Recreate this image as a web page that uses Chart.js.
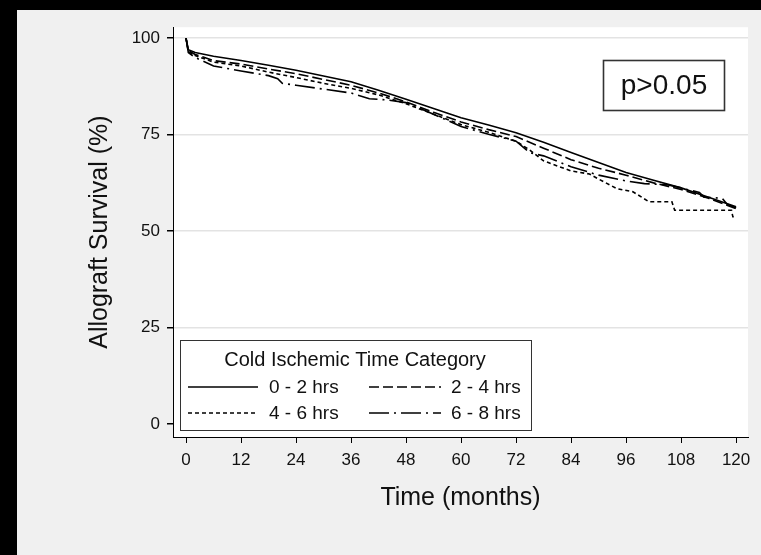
<!DOCTYPE html>
<html>
<head>
<meta charset="utf-8">
<script src="https://cdn.jsdelivr.net/npm/chart.js@4/dist/chart.umd.min.js"></script>
<style>
  html, body { margin: 0; padding: 0; background: #000; }
  #wrap { position: absolute; left: 17px; top: 10px; width: 744px; height: 545px; }
</style>
</head>
<body>
<div id="wrap"><canvas id="kmChart" width="744" height="545"></canvas></div>
<script>
// Kaplan-Meier style survival data (months, % surviving)
const seriesLabels = ["0 - 2 hrs", "2 - 4 hrs", "4 - 6 hrs", "6 - 8 hrs"];

const months02 = [0, 0.5, 2, 6, 12, 18, 24, 30, 36, 42, 48, 54, 60, 66, 72, 78, 84, 90, 96, 102, 108, 114, 120];
const surv02 = [100, 97, 96.3, 95.3, 94.2, 93, 91.7, 90.2, 88.7, 86.5, 84.2, 81.8, 79.4, 77.5, 75.5, 73, 70.4, 67.8, 65.2, 63.2, 61.2, 58.8, 56.3];

const months24 = [0, 0.5, 2, 6, 12, 18, 24, 30, 36, 42, 48, 54, 60, 66, 72, 78, 84, 90, 96, 102, 108, 114, 120];
const surv24 = [100, 96.8, 95.8, 94.2, 93.3, 92, 90.8, 89.3, 87.8, 85.8, 83.5, 80.8, 78.3, 76.3, 74.5, 71.5, 68.5, 66.3, 64.5, 62.5, 60.8, 58.5, 55.8];

const months46 = [0, 0.5, 2, 6, 12, 18, 24, 30, 36, 42, 48, 54, 60, 66, 72, 75, 78, 84, 88, 90, 94, 97.5, 101, 106, 106.6, 119, 119.3, 120];
const surv46 = [100, 96.5, 95.5, 93.8, 92.8, 91.2, 89.8, 88.3, 87, 85.3, 83, 80.3, 77.6, 75.6, 73.3, 71, 68.2, 65.6, 64.8, 63.5, 61, 60.2, 57.6, 57.6, 55.4, 55.4, 53.7, 53.7];

const months68 = [0, 0.5, 2, 6, 12, 18, 20, 21, 24, 30, 36, 40, 44, 48, 54, 60, 66, 72, 75, 78, 84, 90, 96, 100, 105, 108, 112, 113, 117, 118, 120];
const surv68 = [100, 96.3, 95, 92.8, 91.5, 90.3, 89.5, 88.3, 87.8, 86.8, 85.8, 84.3, 84, 83.3, 80.3, 77.1, 75.1, 73.3, 70.3, 69.5, 66.7, 64.5, 63, 62.3, 62, 61.2, 60, 58.8, 58.5, 57, 56];

const xTicks = [0, 12, 24, 36, 48, 60, 72, 84, 96, 108, 120];
const yTicks = [0, 25, 50, 75, 100];

const dashes = [[], [10, 4], [4, 3], [20, 5, 2, 5]];

function toPoints(xs, ys) {
  return xs.map((x, i) => ({ x: x, y: ys[i] }));
}

const allSeries = [
  toPoints(months02, surv02),
  toPoints(months24, surv24),
  toPoints(months46, surv46),
  toPoints(months68, surv68)
];

// grey page + white plot region
const backdrop = {
  id: "backdrop",
  beforeDraw(chart) {
    const ctx = chart.ctx;
    const a = chart.chartArea;
    ctx.save();
    ctx.fillStyle = "#f0f0f0";
    ctx.fillRect(0, 0, chart.width, chart.height);
    ctx.fillStyle = "#ffffff";
    ctx.fillRect(a.left, a.top, a.right - a.left, a.bottom - a.top);
    ctx.restore();
  }
};

// boxed legend inside the plot + p-value box
const boxes = {
  id: "boxes",
  afterDraw(chart) {
    const ctx = chart.ctx;
    ctx.save();
    // legend box
    ctx.fillStyle = "#fff";
    ctx.fillRect(163.5, 330.5, 351, 90);
    ctx.strokeStyle = "#333";
    ctx.lineWidth = 1;
    ctx.strokeRect(163.5, 330.5, 351, 90);

    ctx.fillStyle = "#111";
    ctx.font = "20px 'Liberation Sans', Arial, sans-serif";
    ctx.textAlign = "center";
    ctx.textBaseline = "middle";
    ctx.fillText("Cold Ischemic Time Category", 338, 350);

    const cols = [[171, 241, 252], [352, 424, 434]];
    const rows = [377, 403];
    ctx.font = "19px 'Liberation Sans', Arial, sans-serif";
    ctx.textAlign = "left";
    chart.data.datasets.forEach((ds, i) => {
      const c = cols[i % 2];
      const y = rows[Math.floor(i / 2)];
      ctx.beginPath();
      ctx.setLineDash(ds.borderDash);
      ctx.lineWidth = 1.6;
      ctx.strokeStyle = "#000";
      ctx.moveTo(c[0], y);
      ctx.lineTo(c[1], y);
      ctx.stroke();
      ctx.setLineDash([]);
      ctx.fillText(ds.label, c[2], y + 1);
    });

    // p-value box
    ctx.fillStyle = "#fff";
    ctx.fillRect(586.5, 50.5, 121, 50);
    ctx.strokeStyle = "#333";
    ctx.strokeRect(586.5, 50.5, 121, 50);
    ctx.fillStyle = "#111";
    ctx.font = "28px 'Liberation Sans', Arial, sans-serif";
    ctx.textAlign = "center";
    ctx.fillText("p>0.05", 647, 76);
    ctx.restore();
  }
};

new Chart(document.getElementById("kmChart"), {
  type: "line",
  data: {
    datasets: allSeries.map((pts, i) => ({
      label: seriesLabels[i],
      data: pts,
      borderColor: "#000",
      borderWidth: 1.6,
      borderDash: dashes[i],
      pointRadius: 0,
      tension: 0,
      fill: false
    }))
  },
  options: {
    responsive: false,
    animation: false,
    devicePixelRatio: 1,
    layout: { padding: { left: 0, right: 13, top: 17, bottom: 0 } },
    plugins: {
      legend: { display: false },
      tooltip: { enabled: false }
    },
    scales: {
      x: {
        type: "linear",
        min: -2.84,
        max: 122.6,
        afterBuildTicks: (s) => { s.ticks = xTicks.map(v => ({ value: v })); },
        afterFit: (s) => { s.height = 118; },
        ticks: {
          color: "#111",
          padding: 7,
          font: { family: "'Liberation Sans', Arial, sans-serif", size: 17 }
        },
        grid: { drawOnChartArea: false, tickLength: 6, tickColor: "#000" },
        border: { color: "#000", width: 1 },
        title: {
          display: true,
          text: "Time (months)",
          color: "#111",
          padding: { top: 0, bottom: 42 },
          font: { family: "'Liberation Sans', Arial, sans-serif", size: 25 }
        }
      },
      y: {
        type: "linear",
        min: -3.37,
        max: 102.85,
        afterBuildTicks: (s) => { s.ticks = yTicks.map(v => ({ value: v })); },
        afterFit: (s) => { s.width = 156; },
        ticks: {
          color: "#111",
          padding: 7,
          font: { family: "'Liberation Sans', Arial, sans-serif", size: 17 }
        },
        grid: {
          color: (c) => (c.tick && c.tick.value === 0 ? "rgba(0,0,0,0)" : "#e3e3e3"),
          lineWidth: 1.5,
          tickLength: 6,
          tickColor: "#000"
        },
        border: { color: "#000", width: 1 },
        title: {
          display: true,
          text: "Allograft Survival (%)",
          color: "#111",
          padding: { top: 68, bottom: 0 },
          font: { family: "'Liberation Sans', Arial, sans-serif", size: 25 }
        }
      }
    }
  },
  plugins: [backdrop, boxes]
});
</script>
</body>
</html>
